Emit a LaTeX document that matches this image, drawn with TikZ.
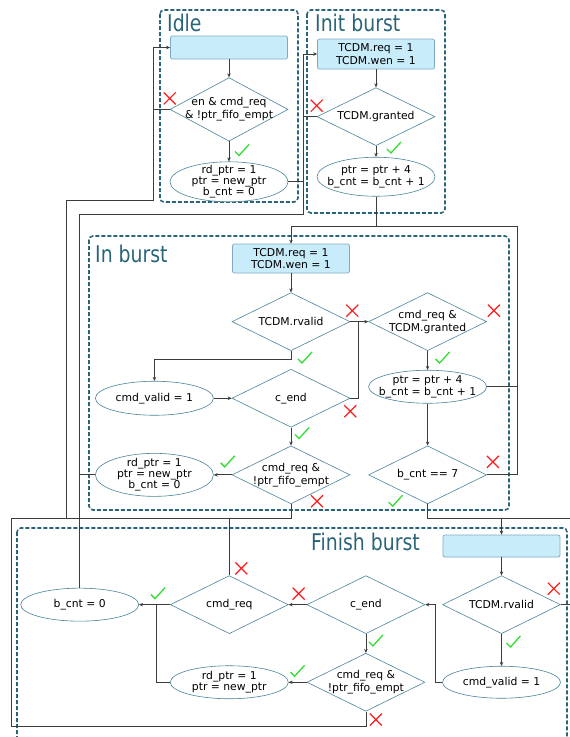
\documentclass[tikz,border=0pt]{standalone}
\usepackage{fontspec}
\setmainfont{DejaVu Sans}
\newfontfamily\titlefont[FakeStretch=0.82]{DejaVu Sans}
\usetikzlibrary{positioning,shapes.geometric,arrows.meta}

\definecolor{boxfill}{HTML}{C9ECFA}
\definecolor{boxline}{HTML}{7DAAC0}
\definecolor{shapeline}{HTML}{4A8499}
\definecolor{grpline}{HTML}{2A6478}
\definecolor{wirec}{HTML}{3C3C3C}
\definecolor{tickc}{HTML}{33DD33}
\definecolor{crossc}{HTML}{FF1A1A}

\begin{document}
\begin{tikzpicture}[x=1pt,y=-1pt,font=\fontsize{10.8}{12.8}\selectfont,
	act/.style={rectangle,rounded corners=2pt,draw=boxline,line width=0.7pt,fill=boxfill,minimum width=117pt,minimum height=23pt,inner sep=1pt,align=center},
	cond/.style={diamond,draw=shapeline,line width=0.6pt,fill=white,minimum width=118pt,minimum height=58pt,inner sep=-12pt,align=center},
	setv/.style={ellipse,draw=shapeline,line width=0.6pt,fill=white,minimum width=118pt,minimum height=33pt,inner sep=-12pt,align=center},
	tight/.style={font=\fontsize{10.8}{11.2}\selectfont},
	grp/.style={draw=grpline,line width=1.6pt,dash pattern=on 4pt off 2pt,rounded corners=4pt},
	ttl/.style={anchor=base west,text=grpline,font=\titlefont\fontsize{23}{23}\selectfont,inner sep=0pt},
	wire/.style={draw=wirec,line width=0.8pt},
	arr/.style={wire,-{Stealth[length=4pt,width=3.5pt]}},
	tick/.pic={\draw[tickc,line width=1.3pt] (-7,1) -- (-3,5) -- (7,-6);},
	cross/.pic={\draw[crossc,line width=1.2pt] (-6,-6) -- (6,6) (-6,6) -- (6,-6);}]
		\useasboundingbox (0,0) rectangle (570,737);

		% state frames
		\draw[grp] (160,10) rectangle (298,202);
		\draw[grp] (307,10) rectangle (445,213);
		\draw[grp] (89,236) rectangle (509,510);
		\draw[grp] (17,528) rectangle (567,760);
		\node[ttl] (tIdle) at (167,31.5) {Idle};
		\node[ttl] (tInit) at (315,31.5) {Init burst};
		\node[ttl] (tIn) at (95,262) {In burst};
		\node[ttl] (tFin) at (311,550) {Finish burst};

		% Idle
		\node[act]												(idleA)	at (229,47.5) {};
		\node[cond,below=18pt of idleA]							(idleD)	{en \& cmd\_req\\\& !ptr\_fifo\_empt};
		\node[setv,tight,minimum height=40pt,below=20pt of idleD]	(idleE)	{rd\_ptr = 1\\ptr = new\_ptr\\b\_cnt = 0};

		% Init burst
		\node[act,minimum height=30pt]							(initA)	at (376,54) {TCDM.req = 1\\TCDM.wen = 1};
		\node[cond,below=18pt of initA]							(initD)	{TCDM.granted};
		\node[setv,minimum height=39pt,below=11pt of initD]		(initE)	{ptr = ptr + 4\\b\_cnt = b\_cnt + 1};

		% In burst
		\node[act,minimum height=29pt]							(inA)	at (291,258.5) {TCDM.req = 1\\TCDM.wen = 1};
		\node[cond,below=19pt of inA]							(inRv)	{TCDM.rvalid};
		\node[cond,right=18pt of inRv]							(inGr)	{cmd\_req \&\\TCDM.granted};
		\node[setv,below=19pt of inGr]							(inPtr)	{ptr = ptr + 4\\b\_cnt = b\_cnt + 1};
		\node[cond,below=18pt of inRv]							(inCe)	{c\_end};
		\node[setv,minimum height=34pt,left=18pt of inCe]		(inVal)	{cmd\_valid = 1};
		\node[cond,below=18pt of inCe]							(inReq)	{cmd\_req \&\\!ptr\_fifo\_empt};
		\node[setv,tight,minimum height=43pt,left=18pt of inReq]	(inNew)	{rd\_ptr = 1\\ptr = new\_ptr\\b\_cnt = 0};
		\node[cond,right=18pt of inReq]							(inCnt)	{b\_cnt == 7};

		% Finish burst
		\node[act,minimum height=22pt]							(finA)	at (501.5,546) {};
		\node[cond,below=18pt of finA]							(finRv)	{TCDM.rvalid};
		\node[setv,minimum height=32pt,below=32pt of finRv]		(finVal)	{cmd\_valid = 1};
		\node[cond,left=17pt of finRv]							(finCe)	{c\_end};
		\node[cond,below=19pt of finCe]							(finReq)	{cmd\_req \&\\!ptr\_fifo\_empt};
		\node[cond,left=18pt of finCe]							(finCmd)	{cmd\_req};
		\node[setv,tight,left=18pt of finReq]					(finNew)	{rd\_ptr = 1\\ptr = new\_ptr};
		\node[setv,left=31pt of finCmd]							(finCnt)	{b\_cnt = 0};

		% junctions
		\coordinate (back) at (66,518);
		\coordinate (backUp) at (153,200);
		\coordinate (fwd) at (303,214);
		\coordinate (loopR) at (517,226);
		\coordinate (lowL) at (11,518);
		\coordinate (lowB) at (11,726);
		\coordinate (rimR) at (571,518);

		\draw[arr] (idleA) -- (idleD);
		\draw[arr] (idleD) -- (idleE);
		\draw[arr] (back) |- (backUp) |- (idleA.west);
		\draw[wire] (idleD.west) -- (idleD.west -| backUp);

		\draw[arr] (initA) -- (initD);
		\draw[arr] (initD) -- (initE);
		\draw[arr] (finCnt.north) |- (fwd) |- (initA.west);
		\draw[wire] (initD.west) -- (initD.west -| fwd);
		\draw[wire] (idleE.east) -- (idleE.east -| fwd);
		\draw[wire] (inNew.west) -- (inNew.west -| finCnt.north);

		\draw[arr] (inCnt.east) -| (loopR) -| (inA.north);
		\draw[wire] (inPtr.east) -- (inPtr.east -| loopR);
		\draw[wire] (initE.south) -- (initE.south |- loopR);

		\draw[arr] (inA) -- (inRv);
		\draw[arr] (inRv) -- (inGr);
		\draw[arr] (inRv.south) -- ++(0,8) -| (inVal.north);
		\draw[arr] (inVal) -- (inCe);
		\draw[wire] (inCe.east) -- ++(8,0) |- (inRv.east);
		\draw[arr] (inCe) -- (inReq);
		\draw[arr] (inReq) -- (inNew);
		\draw[arr] (inGr) -- (inPtr);
		\draw[arr] (inPtr) -- (inCnt);

		\draw[wire] (inReq.south) |- (lowL) -- (lowB) -| (finReq.south);
		\draw[wire] (finCmd.north) -- (finCmd.north |- lowL);
		\draw[arr] (inCnt.south) |- (rimR -| finA.north) -- (finA.north);
		\draw[wire] (finRv.east) -| (rimR) -- (rimR -| finA.north);

		\draw[arr] (finA) -- (finRv);
		\draw[arr] (finRv) -- (finVal);
		\draw[arr] (finVal.west) -- ++(-7,0) |- (finCe.east);
		\draw[arr] (finCe) -- (finCmd);
		\draw[arr] (finCe) -- (finReq);
		\draw[arr] (finReq) -- (finNew);
		\draw[arr] (finCmd) -- (finCnt);
		\draw[wire] (finNew.west) -| ([xshift=-14pt]finCmd.west);

		% yes / no marks
		\pic[yshift=11pt] at (idleD.west) {cross};
		\pic[xshift=13pt,yshift=-9pt] at (idleD.south) {tick};
		\pic[yshift=11pt] at (initD.west) {cross};
		\pic[xshift=18pt,yshift=-2pt] at (initD.south) {tick};
		\pic[xshift=2pt,yshift=11pt] at (inRv.east) {cross};
		\pic[xshift=14pt,yshift=-7pt] at (inRv.south) {tick};
		\pic[xshift=7pt,yshift=11pt] at (inGr.east) {cross};
		\pic[xshift=15pt,yshift=-7pt] at (inGr.south) {tick};
		\pic[yshift=-13pt] at (inCe.east) {cross};
		\pic[xshift=11pt,yshift=-6pt] at (inCe.south) {tick};
		\pic[xshift=-4pt,yshift=13pt] at (inReq.west) {tick};
		\pic[xshift=26pt,yshift=3pt] at (inReq.south) {cross};
		\pic[xshift=6pt,yshift=13pt] at (inCnt.east) {cross};
		\pic[xshift=-32pt,yshift=3pt] at (inCnt.south) {tick};
		\pic[xshift=-12pt,yshift=11pt] at (finCmd.west) {tick};
		\pic[xshift=12pt,yshift=7pt] at (finCmd.north) {cross};
		\pic[xshift=-8pt,yshift=11pt] at (finCe.west) {cross};
		\pic[xshift=10pt,yshift=-7pt] at (finCe.south) {tick};
		\pic[xshift=-9pt,yshift=11pt] at (finReq.west) {tick};
		\pic[xshift=10pt,yshift=-8pt] at (finReq.south) {cross};
		\pic[xshift=-7pt,yshift=16pt] at (finRv.east) {cross};
		\pic[xshift=12pt,yshift=-8pt] at (finRv.south) {tick};
	\end{tikzpicture}
\end{document}
